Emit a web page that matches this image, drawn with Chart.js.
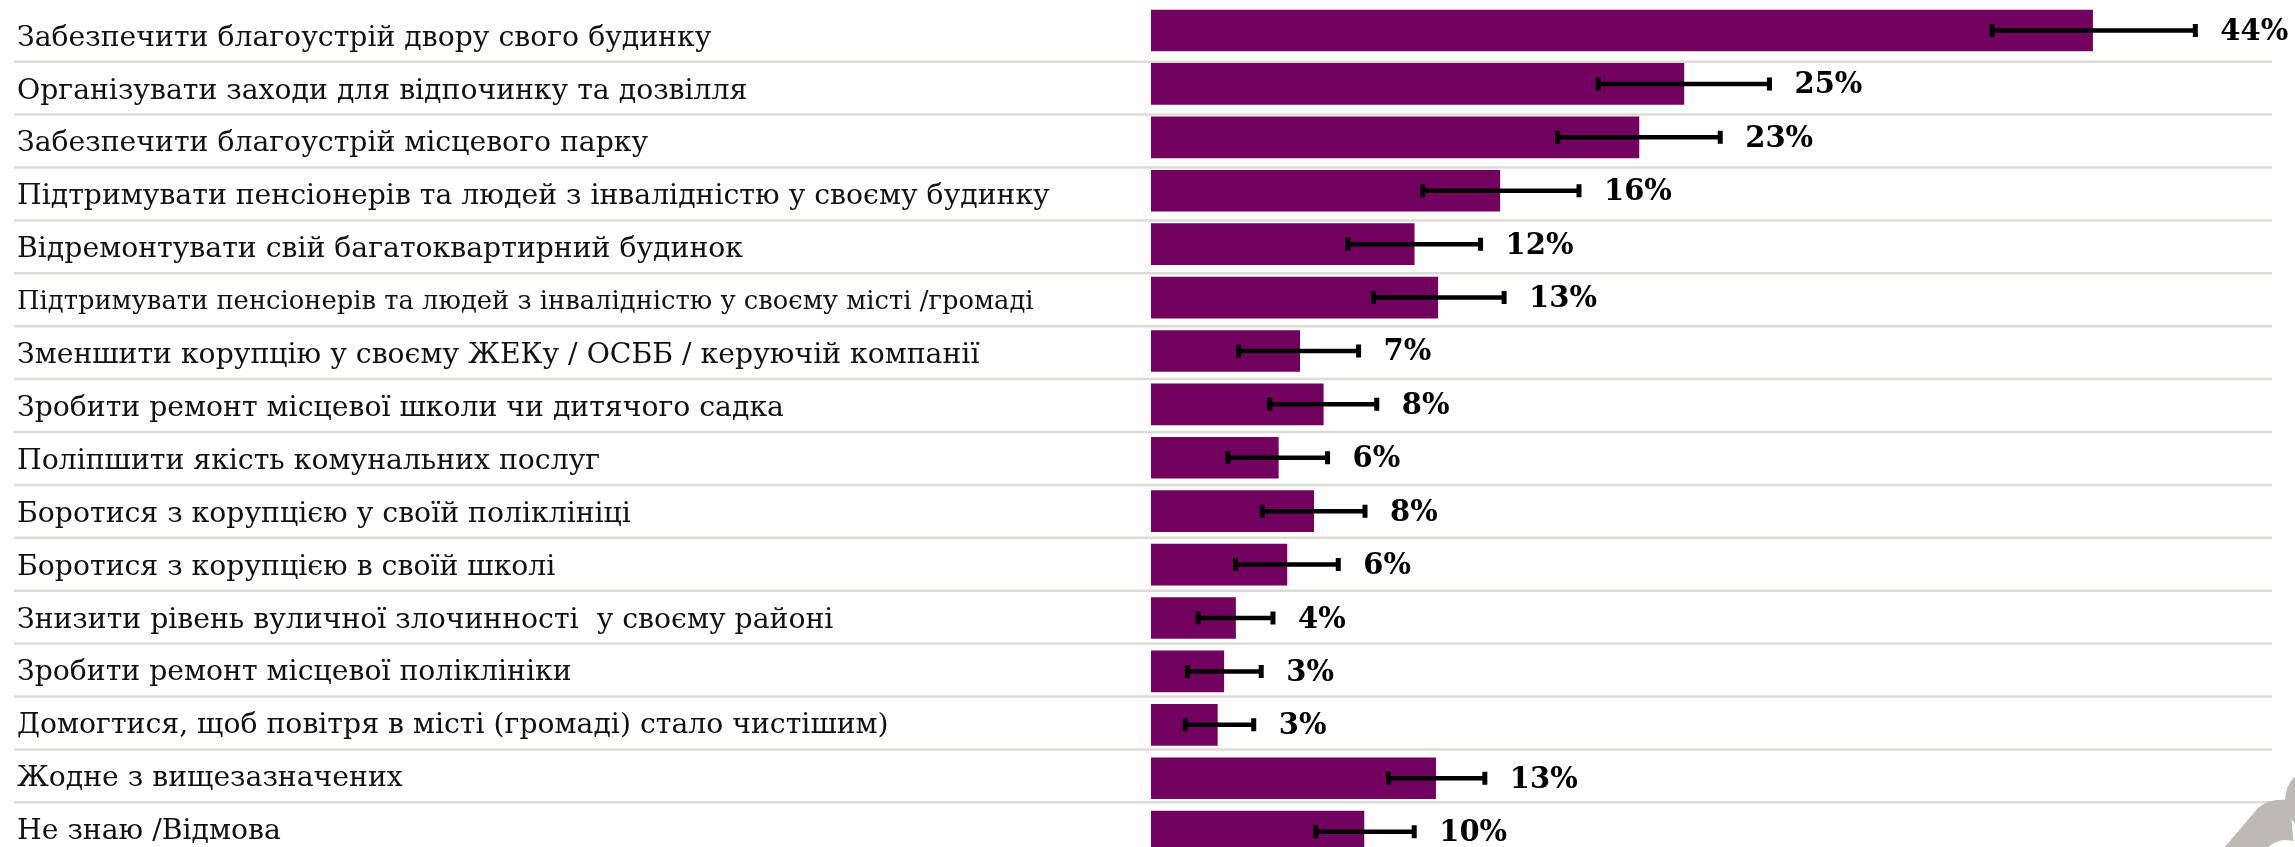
<!DOCTYPE html>
<html><head><meta charset="utf-8">
<script src="https://cdn.jsdelivr.net/npm/chart.js@4.4.1/dist/chart.umd.min.js"></script>
<style>
html,body{margin:0;padding:0;background:#fff;overflow:hidden;width:2295px;height:847px;}
#wrap{width:2295px;height:860px;}
</style></head>
<body><div id="wrap"><canvas id="c" width="2295" height="860"></canvas></div>
<script>
const categories = [
  'Забезпечити благоустрій двору свого будинку',
  'Організувати заходи для відпочинку та дозвілля',
  'Забезпечити благоустрій місцевого парку',
  'Підтримувати пенсіонерів та людей з інвалідністю у своєму будинку',
  'Відремонтувати свій багатоквартирний будинок',
  'Підтримувати пенсіонерів та людей з інвалідністю у своєму місті /громаді',
  'Зменшити корупцію у своєму ЖЕКу / ОСББ / керуючій компанії',
  'Зробити ремонт місцевої школи чи дитячого садка',
  'Поліпшити якість комунальних послуг',
  'Боротися з корупцією у своїй поліклініці',
  'Боротися з корупцією в своїй школі',
  'Знизити рівень вуличної злочинності  у своєму районі',
  'Зробити ремонт місцевої поліклініки',
  'Домогтися, щоб повітря в місті (громаді) стало чистішим)',
  'Жодне з вищезазначених',
  'Не знаю /Відмова'
];
const shares      = [44.0, 24.9, 22.8, 16.3, 12.3, 13.4, 6.95, 8.05, 5.95, 7.6, 6.35, 3.95, 3.4, 3.1, 13.3, 9.95];
const shareLabels = ['44%','25%','23%','16%','12%','13%','7%','8%','6%','8%','6%','4%','3%','3%','13%','10%'];
const errLow      = [39.3, 20.9, 19.0, 12.7, 9.2, 10.4, 4.1, 5.55, 3.6, 5.2, 3.95, 2.2, 1.7, 1.6, 11.1, 7.7];
const errHigh     = [48.8, 28.9, 26.6, 20.0, 15.4, 16.5, 9.7, 10.55, 8.25, 10.0, 8.75, 5.7, 5.15, 4.8, 15.6, 12.3];

const BAR_COLOR = '#72005e';
const SERIF = "'DejaVu Serif', 'Liberation Serif', serif";

const decor = {
  id: 'decor',
  beforeDatasetsDraw(chart) {
    const ctx = chart.ctx, ys = chart.scales.y;
    ctx.save();
    ctx.strokeStyle = '#dcdbd7';
    ctx.lineWidth = 2.5;
    for (let i = 0; i < categories.length - 1; i++) {
      const y = (ys.getPixelForTick(i) + ys.getPixelForTick(i + 1)) / 2;
      ctx.beginPath();
      ctx.moveTo(14, y);
      ctx.lineTo(chart.width - 23, y);
      ctx.stroke();
    }
    ctx.restore();
  },
  afterDatasetsDraw(chart) {
    const ctx = chart.ctx, xs = chart.scales.x, yb = chart.scales.yb;
    ctx.save();
    ctx.strokeStyle = '#000';
    ctx.fillStyle = '#000';
    for (let i = 0; i < shares.length; i++) {
      const y = yb.getPixelForValue(i);
      const x0 = xs.getPixelForValue(errLow[i]);
      const x1 = xs.getPixelForValue(errHigh[i]);
      ctx.lineWidth = 4.5;
      ctx.beginPath(); ctx.moveTo(x0, y); ctx.lineTo(x1, y); ctx.stroke();
      ctx.lineWidth = 5;
      ctx.beginPath();
      ctx.moveTo(x0, y - 6.5); ctx.lineTo(x0, y + 6.5);
      ctx.moveTo(x1, y - 6.5); ctx.lineTo(x1, y + 6.5);
      ctx.stroke();
      ctx.font = "bold 29px " + SERIF;
      ctx.textAlign = 'left';
      ctx.textBaseline = 'middle';
      ctx.fillText(shareLabels[i], x1 + 25, y + 2);
    }
    ctx.restore();
  },
  afterDraw(chart) {
    const ctx = chart.ctx;
    ctx.save();
    ctx.fillStyle = '#bdb9b5';
    ctx.beginPath();
    ctx.moveTo(2212, 862);
    ctx.lineTo(2258, 808);
    ctx.quadraticCurveTo(2268, 798, 2290, 800);
    ctx.lineTo(2295, 862);
    ctx.closePath();
    ctx.fill();
    ctx.beginPath();
    ctx.arc(2318, 800, 33, 0, Math.PI * 2);
    ctx.fill();
    ctx.fillStyle = '#fff';
    ctx.beginPath();
    ctx.arc(2286, 866, 26, 0, Math.PI * 2);
    ctx.fill();
    ctx.restore();
  }
};

new Chart(document.getElementById('c'), {
  type: 'bar',
  data: {
    datasets: [{
      data: shares.map((v, i) => ({ x: v, y: i })),
      backgroundColor: BAR_COLOR,
      borderWidth: 0,
      barThickness: 41,
      xAxisID: 'x',
      yAxisID: 'yb'
    }]
  },
  options: {
    indexAxis: 'y',
    responsive: false,
    devicePixelRatio: 1,
    animation: false,
    layout: { padding: { left: 17, right: 74, top: 8.8, bottom: 4.8 } },
    plugins: { legend: { display: false }, tooltip: { enabled: false } },
    scales: {
      x: { type: 'linear', min: 0, max: 50, display: false, offset: false },
      yb: { type: 'linear', min: -0.4063, max: 15.441, reverse: true, display: false, offset: false, grace: 0 },
      y: {
        type: 'category',
        position: 'left',
        labels: categories,
        offset: true,
        grid: { display: false },
        border: { display: false },
        ticks: {
          crossAlign: 'far',
          autoSkip: false,
          padding: 0,
          labelOffset: 3,
          color: '#111',
          font: (ctx) => ({ family: SERIF, size: ctx.index === 5 ? 25.8 : 28.3 })
        },
        afterFit(scale) {
          scale.width = 1134;
          scale.paddingTop = 0;
          scale.paddingBottom = 0;
        }
      }
    }
  },
  plugins: [decor]
});
</script>
</body></html>
